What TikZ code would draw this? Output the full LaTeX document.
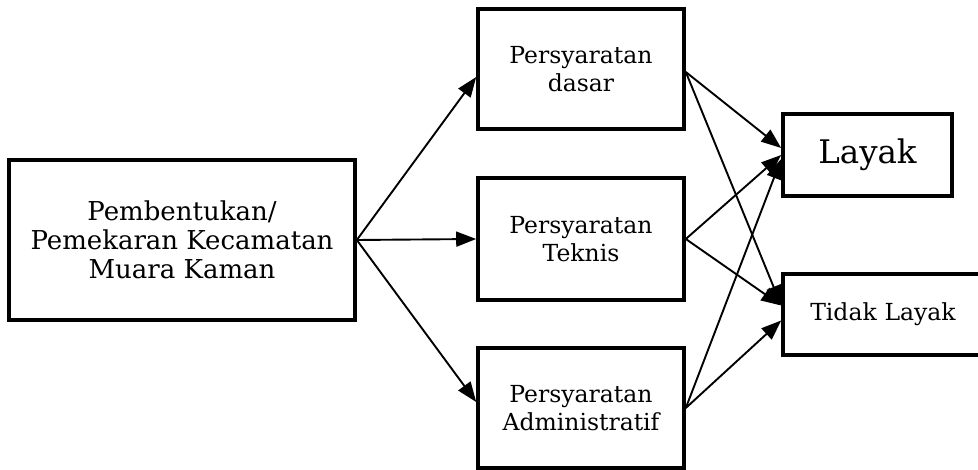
\documentclass[tikz,border=0pt]{standalone}
\usepackage{fontspec}
\setmainfont{DejaVu Serif}
\usetikzlibrary{arrows.meta}
\begin{document}
\begin{tikzpicture}[x=1pt,y=-1pt,
  box/.style={draw,line width=3.6pt,rectangle,inner sep=0pt,align=center,font=\fontsize{23.5}{28}\selectfont},
  arr/.style={line width=1.9pt,-{Triangle[length=20pt,width=15pt]}}]
\useasboundingbox (0,0) rectangle (978,470);
\node[box,minimum width=346pt,minimum height=160pt,font=\fontsize{26}{29}\selectfont] (L) at (182,240) {Pembentukan/\\Pemekaran Kecamatan\\Muara Kaman};
\node[box,minimum width=206pt,minimum height=120pt] (D) at (581,69) {Persyaratan\\dasar};
\node[box,minimum width=206pt,minimum height=122pt] (T) at (581,239) {Persyaratan\\Teknis};
\node[box,minimum width=206pt,minimum height=120pt] (A) at (581,408) {Persyaratan\\Administratif};
\node[box,minimum width=169pt,minimum height=82pt,font=\fontsize{32.5}{36}\selectfont] (Ly) at (867.5,155) {Layak};
\node[box,minimum width=200pt,minimum height=81pt,text width=200pt,font=\fontsize{23.5}{28}\selectfont] (Td) at (883,314.5) {Tidak Layak};
\draw[arr] (L.east) -- ([yshift=-8pt]D.west);
\draw[arr] (L.east) -- (T.west);
\draw[arr] (L.east) -- ([yshift=6pt]A.west);
\draw[arr] ([yshift=-3pt]D.east) -- ([yshift=7pt]Ly.west);
\draw[arr] ([yshift=-3pt]D.east) -- ([yshift=9pt]Td.west);
\draw[arr] (T.east) -- (Ly.west);
\draw[arr] (T.east) -- ([yshift=9pt]Td.west);
\draw[arr] (A.east) -- ([yshift=-4pt]Ly.west);
\draw[arr] (A.east) -- ([yshift=-6pt]Td.west);
\end{tikzpicture}
\end{document}
